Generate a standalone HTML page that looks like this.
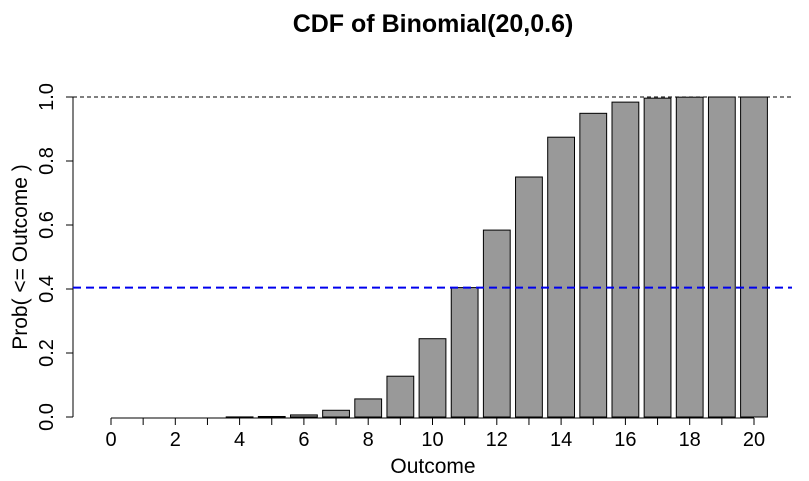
<!DOCTYPE html>
<html><head><meta charset="utf-8">
<style>
html,body{margin:0;padding:0;background:#fff;}
svg{display:block;font-family:"Liberation Sans",Arial,sans-serif;}
</style></head>
<body>
<svg id="chart" width="809" height="481" viewBox="0 0 809 481">
<text x="433" y="32" text-anchor="middle" font-size="25" font-weight="bold">CDF of Binomial(20,0.6)</text>
<text x="433" y="473" text-anchor="middle" font-size="21">Outcome</text>
<text transform="translate(27,257) rotate(-90)" text-anchor="middle" font-size="21">Prob( &lt;= Outcome )</text>
<g id="bars"></g>
<g id="yaxis"></g>
<g id="xaxis"></g>
<g id="refs"></g>
</svg>
<script>
const outcomes=[0,1,2,3,4,5,6,7,8,9,10,11,12,13,14,15,16,17,18,19,20];
const cdfValues=[0,0,0,0,0.0003,0.0016,0.0065,0.0210,0.0565,0.1275,0.2447,0.4044,0.5841,0.7500,0.8744,0.9490,0.9840,0.9964,0.9995,1.0,1.0];
const yTicks=[0,0.2,0.4,0.6,0.8,1];
const yTickLabels=["0.0","0.2","0.4","0.6","0.8","1.0"];
const xTickLabels=["0","2","4","6","8","10","12","14","16","18","20"];
const refLevel=0.4044;

const NS="http://www.w3.org/2000/svg";
const y=v=>417-v*320;
const x=k=>111+k*32.15;
const bw=26.8;
function mk(tag,attrs,parent){const e=document.createElementNS(NS,tag);for(const k in attrs)e.setAttribute(k,attrs[k]);parent.appendChild(e);return e;}
const bars=document.getElementById('bars');
outcomes.forEach((k,i)=>{
  const top=y(cdfValues[i]);
  const r=mk('rect',{x:x(k)-bw/2,y:top,width:bw,height:Math.max(0,417-top),fill:'#999999',stroke:'#000','stroke-width':1},bars);
  
  
});
const ya=document.getElementById('yaxis');
mk('line',{x1:73,x2:73,y1:y(0),y2:y(1),stroke:'#000'},ya);
yTicks.forEach((v,i)=>{
  mk('line',{x1:66,x2:73,y1:y(v),y2:y(v),stroke:'#000'},ya);
  const t=mk('text',{transform:`translate(53,${y(v)}) rotate(-90)`,'text-anchor':'middle','font-size':20},ya);
  t.textContent=yTickLabels[i];
  
  
});
const xa=document.getElementById('xaxis');
mk('line',{x1:x(0),x2:x(20),y1:418,y2:418,stroke:'#000'},xa);
outcomes.forEach(k=>{mk('line',{x1:x(k),x2:x(k),y1:418,y2:425,stroke:'#000'},xa);});
xTickLabels.forEach(l=>{
  const t=mk('text',{x:x(+l),y:446,'text-anchor':'middle','font-size':20},xa);
  t.textContent=l;
  
  
});
const refs=document.getElementById('refs');
const l1=mk('line',{x1:73,x2:792,y1:y(1),y2:y(1),stroke:'#000','stroke-width':1,'stroke-dasharray':'4,3'},refs);


const l2=mk('line',{x1:73,x2:792,y1:y(refLevel),y2:y(refLevel),stroke:'#0000ee','stroke-width':2,'stroke-dasharray':'8,5'},refs);


</script>
</body></html>
